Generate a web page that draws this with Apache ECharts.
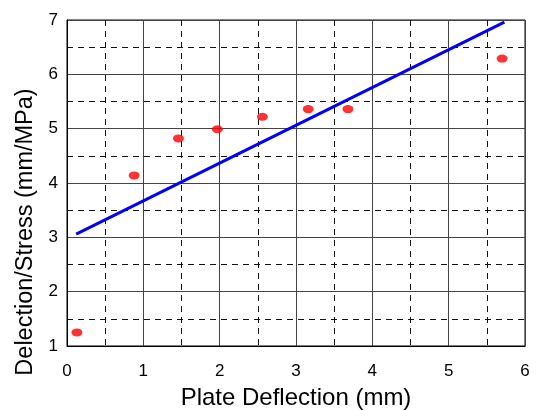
<!DOCTYPE html>
<html>
<head>
<meta charset="utf-8">
<script src="https://cdn.jsdelivr.net/npm/echarts@6/dist/echarts.min.js"></script>
<style>html,body{margin:0;padding:0;background:#fff}#c{width:544px;height:410px}</style>
</head>
<body>
<div id="c"></div>
<script>
const measX = [0.13, 0.88, 1.46, 1.97, 2.56, 3.16, 3.68, 5.70];
const measY = [1.25, 4.14, 4.82, 4.99, 5.22, 5.36, 5.36, 6.29];
const fitX = [0.12, 5.73];
const fitY = [3.06, 6.96];
const xTicks = [0, 1, 2, 3, 4, 5, 6];
const yTicks = [1, 2, 3, 4, 5, 6, 7];
const xTitle = 'Plate Deflection (mm)';
const yTitle = 'Delection/Stress (mm/MPa)';

const font = 'Liberation Sans, Arial, sans-serif';
const chart = echarts.init(document.getElementById('c'));
const axisCommon = {
  interval: 1,
  axisLine: { show: true, onZero: false, lineStyle: { color: '#000', width: 1 } },
  axisTick: { show: false },
  splitLine: { show: true, lineStyle: { color: '#444', width: 1 } },
  minorTick: { show: false, splitNumber: 2 },
  minorSplitLine: { show: true, lineStyle: { color: '#111', width: 1, type: [6, 5] } },
  nameLocation: 'middle'
};
chart.setOption({
  animation: false,
  backgroundColor: '#fff',
  grid: { left: 67, right: 19, top: 20, bottom: 64, show: true, borderColor: '#000', borderWidth: 1, containLabel: false, outerBoundsMode: 'none' },
  xAxis: Object.assign({}, axisCommon, {
    type: 'value',
    min: xTicks[0], max: xTicks[xTicks.length - 1],
    name: xTitle, nameGap: 40,
    nameTextStyle: { fontFamily: font, fontSize: 24, color: '#000' },
    axisLabel: { margin: 17, fontFamily: font, fontSize: 17, color: '#000', formatter: v => xTicks.includes(v) ? String(v) : '' }
  }),
  yAxis: Object.assign({}, axisCommon, {
    type: 'value',
    min: yTicks[0], max: yTicks[yTicks.length - 1],
    name: yTitle, nameGap: 22,
    nameTextStyle: { fontFamily: font, fontSize: 23.5, color: '#000', padding: [0, 98, 0, 0] },
    axisLabel: { margin: 9, fontFamily: font, fontSize: 17, color: '#000', formatter: v => yTicks.includes(v) ? String(v) : '' }
  }),
  series: [
    {
      type: 'line',
      data: fitX.map((x, i) => [x, fitY[i]]),
      symbol: 'none',
      lineStyle: { color: '#0000ff', width: 3 },
      z: 3
    },
    {
      type: 'scatter',
      data: measX.map((x, i) => [x, measY[i]]),
      symbol: 'circle',
      symbolSize: [11, 8],
      itemStyle: { color: '#ff0000' },
      z: 4
    }
  ]
});
</script>
</body>
</html>
